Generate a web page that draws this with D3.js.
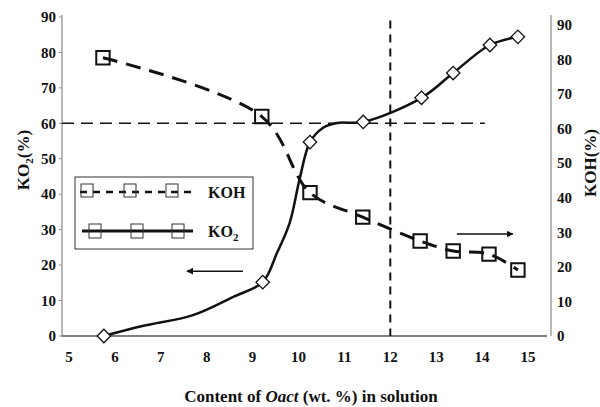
<!DOCTYPE html>
<html>
<head>
<meta charset="utf-8">
<script src="https://cdn.jsdelivr.net/npm/d3@7"></script>
<style>
  html, body { margin: 0; padding: 0; background: #fff; }
  svg { display: block; }
  text { font-family: "Liberation Serif", "Times New Roman", serif; font-weight: bold; fill: #111; }
</style>
</head>
<body>
<svg id="chart" width="600" height="407"></svg>
<script>
// Content of Oact (wt. %) in solution
const xTicks = [5, 6, 7, 8, 9, 10, 11, 12, 13, 14, 15];
const yTicks = [0, 10, 20, 30, 40, 50, 60, 70, 80, 90];

// KOH (%) – right axis, measured points
const kohX = [5.74, 9.2, 10.25, 11.4, 12.65, 13.37, 14.15, 14.78];
const kohY = [80.5, 63.5, 41.5, 34.4, 27.5, 24.6, 23.7, 19.1];

// KO2 (%) – left axis, measured points
const ko2X = [5.76, 9.22, 10.25, 11.41, 12.68, 13.37, 14.17, 14.78];
const ko2Y = [0, 15.2, 54.7, 60.4, 67.2, 74.2, 82.1, 84.4];

// KO2 fitted trend curve (left axis)
const ko2CurveX = [5.76, 6.6, 7.7, 8.57, 9.22, 9.53, 9.81, 10.03, 10.25, 10.53, 10.84, 11.41, 12.68, 13.37, 14.17, 14.78];
const ko2CurveY = [0, 2.8, 5.9, 11, 15.2, 23.4, 32, 44.6, 54.7, 58.7, 60.1, 60.4, 67.2, 74.2, 82.1, 84.4];

// Guide lines: KO2 = 60 % and Oact = 12 wt.%
const guideLevel = 60;
const guideLevelEnd = 14.06;
const guideContent = 12;
const guideContentTop = 89;

// Arrows pointing to the axis each curve belongs to
const arrowLeftX = [8.79, 7.57], arrowLeftY = 18.3;   // left axis
const arrowRightX = [13.45, 14.67], arrowRightY = 29.5; // right axis

const svg = d3.select("#chart");
const x = d3.scaleLinear().domain([5, 15]).range([69, 528]);
const yL = d3.scaleLinear().domain([0, 90]).range([336, 17]);
const yR = d3.scaleLinear().domain([0, 90]).range([336, 25]);

const axisColor = "#8a8a8a";
const xLeft = 62, xRight = 551, yBottom = 336, yTop = 15;

// axis lines
svg.append("line").attr("x1", xLeft).attr("x2", xLeft).attr("y1", yTop).attr("y2", yBottom)
  .attr("stroke", axisColor).attr("stroke-width", 1.2);
svg.append("line").attr("x1", xRight).attr("x2", xRight).attr("y1", yTop).attr("y2", yBottom)
  .attr("stroke", axisColor).attr("stroke-width", 1.2);
svg.append("line").attr("x1", xLeft).attr("x2", 547).attr("y1", yBottom).attr("y2", yBottom)
  .attr("stroke", "#555").attr("stroke-width", 1.4);

// left ticks
svg.selectAll(".ltick").data(yTicks).enter().append("line")
  .attr("x1", xLeft - 3).attr("x2", xLeft).attr("y1", d => yL(d)).attr("y2", d => yL(d))
  .attr("stroke", axisColor);
svg.selectAll(".llab").data(yTicks).enter().append("text")
  .attr("x", 56).attr("y", d => yL(d)).attr("dy", "0.35em")
  .attr("text-anchor", "end").attr("font-size", 15).text(d => d);
// right tick labels
svg.selectAll(".rlab").data(yTicks).enter().append("text")
  .attr("x", 557).attr("y", d => yR(d)).attr("dy", "0.35em")
  .attr("text-anchor", "start").attr("font-size", 15).text(d => d);
// x tick labels
svg.selectAll(".xlab").data(xTicks).enter().append("text")
  .attr("x", d => x(d)).attr("y", 357).attr("dy", "0.35em")
  .attr("text-anchor", "middle").attr("font-size", 15).text(d => d);

// axis titles
const lt = svg.append("text").attr("transform", "translate(29,160) rotate(-90)")
  .attr("text-anchor", "middle").attr("font-size", 17);
lt.append("tspan").text("KO");
lt.append("tspan").attr("font-size", 11).attr("dy", 4).text("2");
lt.append("tspan").attr("dy", -4).text("(%)");

svg.append("text").attr("transform", "translate(596,163) rotate(-90)")
  .attr("text-anchor", "middle").attr("font-size", 17).text("KOH(%)");

const xt = svg.append("text").attr("x", 311).attr("y", 402)
  .attr("text-anchor", "middle").attr("font-size", 17);
xt.append("tspan").text("Content of ");
xt.append("tspan").attr("font-style", "italic").text("Oact");
xt.append("tspan").text(" (wt. %) in solution");

// guide lines
svg.append("line").attr("x1", xLeft).attr("x2", x(guideLevelEnd))
  .attr("y1", yL(guideLevel)).attr("y2", yL(guideLevel))
  .attr("stroke", "#111").attr("stroke-width", 1.5).attr("stroke-dasharray", "12,7");
svg.append("line").attr("x1", x(guideContent)).attr("x2", x(guideContent))
  .attr("y1", yL(guideContentTop)).attr("y2", yBottom)
  .attr("stroke", "#111").attr("stroke-width", 2).attr("stroke-dasharray", "8,6");

// KOH dashed curve
const kohPts = kohX.map((v, i) => [x(v), yR(kohY[i])]);
svg.append("path").attr("d", d3.line().curve(d3.curveCatmullRom.alpha(0.5))(kohPts))
  .attr("fill", "none").attr("stroke", "#111").attr("stroke-width", 3)
  .attr("stroke-dasharray", "15,9");

// KO2 solid curve
const ko2Pts = ko2CurveX.map((v, i) => [x(v), yL(ko2CurveY[i])]);
svg.append("path").attr("d", d3.line().curve(d3.curveCatmullRom.alpha(0.5))(ko2Pts))
  .attr("fill", "none").attr("stroke", "#111").attr("stroke-width", 2.5);

// markers
const sq = d3.symbol(d3.symbolSquare, 180)();
svg.selectAll(".kohm").data(kohX).enter().append("path")
  .attr("d", sq).attr("transform", (d, i) => `translate(${x(d)},${yR(kohY[i])})`)
  .attr("fill", "none").attr("stroke", "#111").attr("stroke-width", 2);
const dm = d3.symbol(d3.symbolSquare, 90)();
svg.selectAll(".ko2m").data(ko2X).enter().append("path")
  .attr("d", dm).attr("transform", (d, i) => `translate(${x(d)},${yL(ko2Y[i])}) rotate(45)`)
  .attr("fill", "#fff").attr("stroke", "#111").attr("stroke-width", 1.3);

// arrows
svg.append("defs").append("marker").attr("id", "ah").attr("viewBox", "0 0 10 10")
  .attr("refX", 9).attr("refY", 5).attr("markerWidth", 7).attr("markerHeight", 7)
  .attr("markerUnits", "userSpaceOnUse").attr("orient", "auto")
  .append("path").attr("d", "M0,0 L10,5 L0,10 z").attr("fill", "#111");
svg.append("line").attr("x1", x(arrowLeftX[0])).attr("x2", x(arrowLeftX[1]))
  .attr("y1", yL(arrowLeftY)).attr("y2", yL(arrowLeftY))
  .attr("stroke", "#111").attr("stroke-width", 1.5).attr("marker-end", "url(#ah)");
svg.append("line").attr("x1", x(arrowRightX[0])).attr("x2", x(arrowRightX[1]))
  .attr("y1", yR(arrowRightY)).attr("y2", yR(arrowRightY))
  .attr("stroke", "#111").attr("stroke-width", 1.5).attr("marker-end", "url(#ah)");

// legend
const lg = svg.append("g");
lg.append("rect").attr("x", 75).attr("y", 177).attr("width", 178).attr("height", 72)
  .attr("fill", "#fff").attr("stroke", "#333").attr("stroke-width", 1);
lg.append("line").attr("x1", 80).attr("x2", 192).attr("y1", 192).attr("y2", 192)
  .attr("stroke", "#111").attr("stroke-width", 2.5).attr("stroke-dasharray", "7,6");
[87, 130, 172].forEach(cx => lg.append("rect").attr("x", cx - 6).attr("y", 184)
  .attr("width", 12).attr("height", 13).attr("fill", "none").attr("stroke", "#333").attr("stroke-width", 1));
lg.append("text").attr("x", 208).attr("y", 192).attr("dy", "0.35em").attr("font-size", 16).text("KOH");
lg.append("line").attr("x1", 82).attr("x2", 193).attr("y1", 231).attr("y2", 231)
  .attr("stroke", "#111").attr("stroke-width", 3);
[95, 137, 178].forEach(cx => lg.append("rect").attr("x", cx - 6).attr("y", 224)
  .attr("width", 12).attr("height", 14).attr("fill", "none").attr("stroke", "#333").attr("stroke-width", 1));
const lk = lg.append("text").attr("x", 208).attr("y", 231).attr("dy", "0.35em").attr("font-size", 16);
lk.append("tspan").text("KO");
lk.append("tspan").attr("font-size", 11).attr("dy", 4).text("2");
</script>
</body>
</html>
